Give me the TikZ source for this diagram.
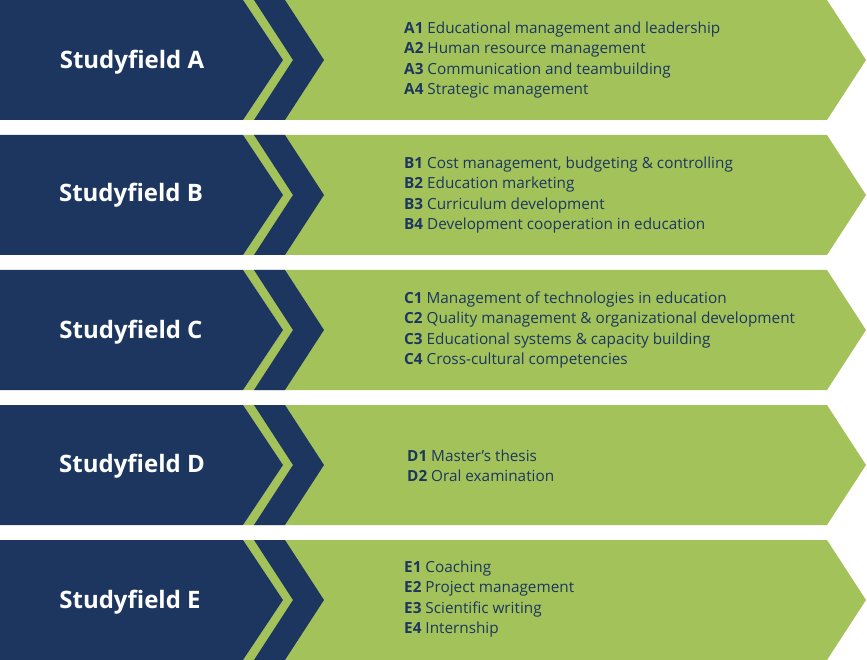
\documentclass[tikz,border=0pt]{standalone}
\usepackage{fontspec}
\setmainfont{Open Sans}
\definecolor{navy}{HTML}{1C365F}
\definecolor{leaf}{HTML}{A3C35A}
\tikzset{
  fieldlabel/.style={text=white,font=\fontsize{24}{28}\selectfont\bfseries,anchor=center},
  itemlist/.style={text=navy,font=\fontsize{15.3}{20.4}\selectfont,anchor=west,align=left,inner sep=0pt},
}
\newcommand{\rowshape}[1]{%
  \begin{scope}[yshift=#1]
    \fill[leaf] (243,0) -- (827,0) -- (866,60) -- (827,120) -- (243,120) -- (283,60) -- cycle;
    \fill[navy] (0,0) -- (243,0) -- (283,60) -- (243,120) -- (0,120) -- cycle;
    \fill[navy] (254,0) -- (285,0) -- (324,60) -- (285,120) -- (254,120) -- (293,60) -- cycle;
  \end{scope}}
\begin{document}
\begin{tikzpicture}[x=1pt,y=-1pt]
\useasboundingbox (0,0) rectangle (867,660);
\rowshape{0}
\rowshape{-135}
\rowshape{-270}
\rowshape{-405}
\rowshape{-540}
\node[fieldlabel] (fa) at (132,62) {Studyfield A};
\node[fieldlabel] (fb) at (131,195) {Studyfield B};
\node[fieldlabel] (fc) at (131,332) {Studyfield C};
\node[fieldlabel] (fd) at (132,466) {Studyfield D};
\node[fieldlabel] (fe) at (130,602) {Studyfield E};
\node[itemlist] (la) at (404,60) {\textbf{A1} Educational management and leadership\\\textbf{A2} Human resource management\\\textbf{A3} Communication and teambuilding\\\textbf{A4} Strategic management};
\node[itemlist] (lb) at (404,195) {\textbf{B1} Cost management, budgeting \& controlling\\\textbf{B2} Education marketing\\\textbf{B3} Curriculum development\\\textbf{B4} Development cooperation in education};
\node[itemlist] (lc) at (404,330) {\textbf{C1} Management of technologies in education\\\textbf{C2} Quality management \& organizational development\\\textbf{C3} Educational systems \& capacity building\\\textbf{C4} Cross-cultural competencies};
\node[itemlist] (ld) at (407,466) {\textbf{D1} Master’s thesis\\\textbf{D2} Oral examination};
\node[itemlist] (le) at (404,599) {\textbf{E1} Coaching\\\textbf{E2} Project management\\\textbf{E3} Scientific writing\\\textbf{E4} Internship};
\end{tikzpicture}
\end{document}
